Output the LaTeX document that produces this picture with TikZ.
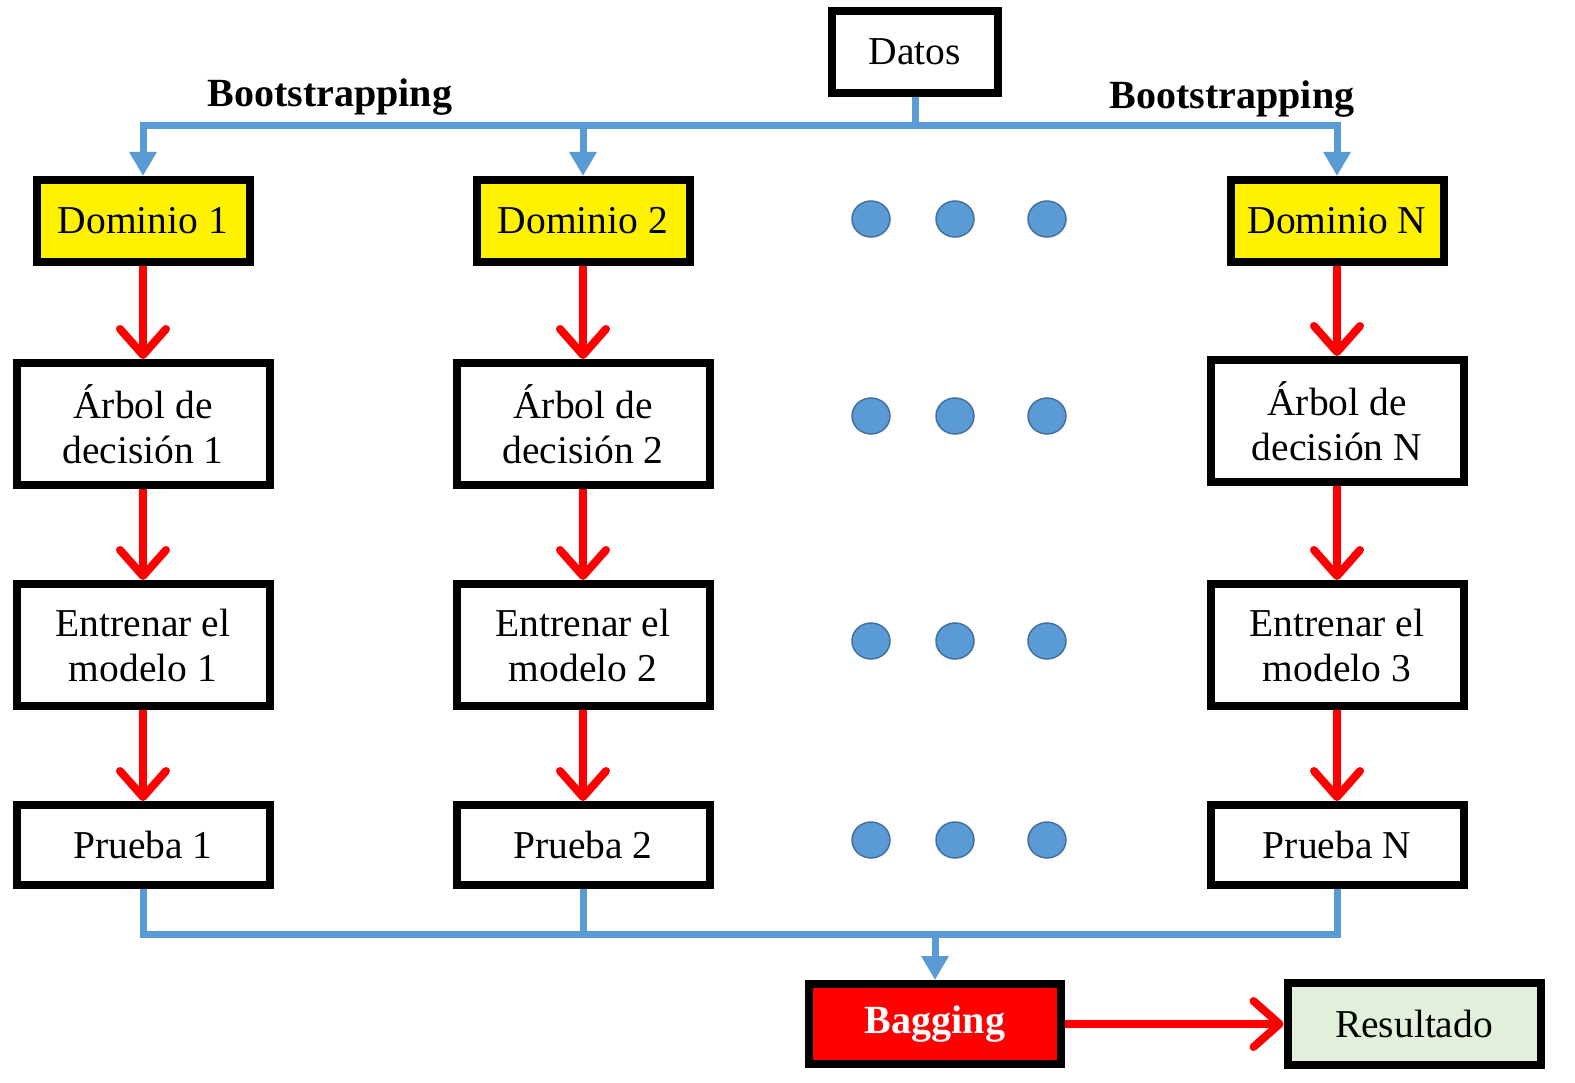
\documentclass[tikz,border=0pt]{standalone}
\usepackage{fontspec}
\setmainfont{Liberation Serif}
\usetikzlibrary{arrows.meta}
\definecolor{lblue}{HTML}{5B9BD5}
\definecolor{dborder}{HTML}{41719C}
\definecolor{lgreen}{HTML}{E2EFDA}
\tikzset{
  box/.style={draw=black, line width=8pt, inner sep=0pt, align=center,
    font=\fontsize{39.5}{45}\selectfont, text=black},
  dombox/.style={box, fill=yellow, minimum width=213pt, minimum height=82pt},
  bigbox/.style={box, fill=white, minimum width=253pt, minimum height=122pt},
  smallbox/.style={box, fill=white, minimum width=253pt, minimum height=80pt},
  redarrow/.style={draw=red, line width=8pt, -{Straight Barb[length=26pt,width=46pt,round]}},
  blueline/.style={draw=lblue, line width=7pt},
  bluearrow/.style={blueline, -{Triangle[length=24pt,width=26pt]}},
  dotshape/.style={fill=lblue, draw=dborder, line width=1.5pt},
  lbl/.style={font=\fontsize{40}{45}\selectfont\bfseries, inner sep=0pt}
}
\begin{document}
\begin{tikzpicture}[x=1pt,y=-1pt]
\useasboundingbox (0,0) rectangle (1575,1083);
% nodes
\node[box, fill=white, minimum width=166pt, minimum height=82pt] (datos) at (915,52) {Datos};
\node[dombox] (d1) at (143,221) {Dominio 1};
\node[dombox] (d2) at (583,221) {Dominio 2};
\node[dombox] (dN) at (1337,221) {Dominio N};
\node[bigbox] (a1) at (143,424) {Árbol de\\decisión 1};
\node[bigbox] (a2) at (583,424) {Árbol de\\decisión 2};
\node[bigbox] (aN) at (1337,421) {Árbol de\\decisión N};
\node[bigbox] (e1) at (143,645) {Entrenar el\\modelo 1};
\node[bigbox] (e2) at (583,645) {Entrenar el\\modelo 2};
\node[bigbox] (eN) at (1337,645) {Entrenar el\\modelo 3};
\node[smallbox] (p1) at (143,845) {Prueba 1};
\node[smallbox] (p2) at (583,845) {Prueba 2};
\node[smallbox] (pN) at (1337,845) {Prueba N};
\node[box, fill=red, text=white, font=\fontsize{40}{45}\selectfont\bfseries, minimum width=252pt, minimum height=80pt] (bag) at (935,1024) {Bagging};
\node[box, fill=lgreen, minimum width=253pt, minimum height=82pt] (res) at (1414,1024) {Resultado};
% labels
\node[lbl] (b1) at (330,97) {Bootstrapping};
\node[lbl] (b2) at (1232,99) {Bootstrapping};
% top distribution
\coordinate (tj) at (915,126);
\draw[blueline] (datos.south) -- (tj);
\draw[bluearrow] (tj) -| (d1.north);
\draw[bluearrow] (tj) -| (dN.north);
\draw[bluearrow] (d2.north |- tj) -- (d2.north);
% red arrows
\foreach \u/\v in {d1/a1,a1/e1,e1/p1,d2/a2,a2/e2,e2/p2,dN/aN,aN/eN,eN/pN}
  \draw[redarrow] (\u.south) -- (\v.north);
\draw[redarrow] (bag.east) -- (res.west);
% bottom collection
\coordinate (bj) at (935,934);
\draw[blueline] (p1.south) |- (bj) -| (pN.south);
\draw[blueline] (p2.south) -- (p2.south |- bj);
\draw[bluearrow] (bj) -- (bag.north);
% dots
\foreach \yy in {219,416,641,840}{
  \foreach \xx in {871,955,1047}{
    \path[dotshape] (\xx,\yy) ellipse (19 and 18);
  }
}
\end{tikzpicture}
\end{document}
